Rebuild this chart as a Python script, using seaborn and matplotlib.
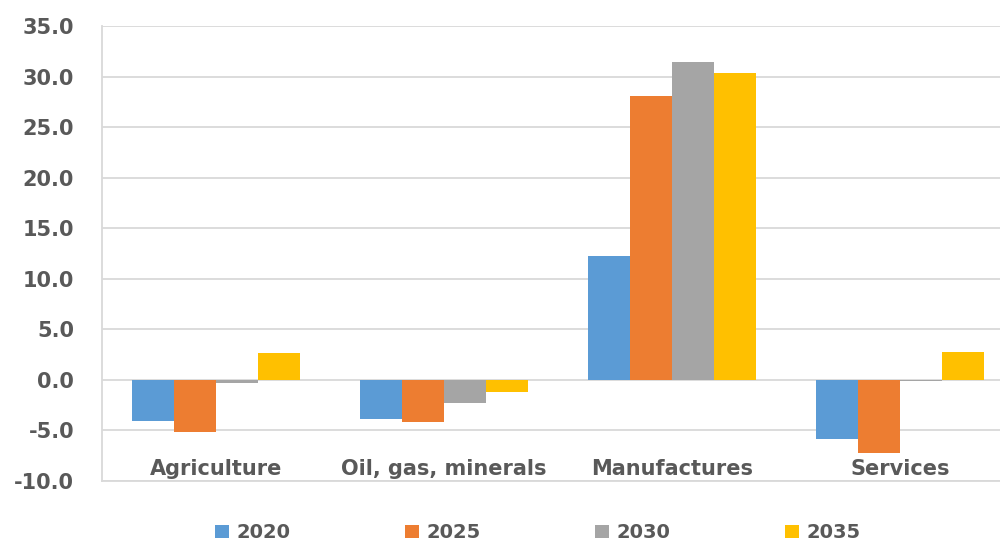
import matplotlib
matplotlib.use("Agg")
import matplotlib.pyplot as plt
import seaborn as sns
import pandas as pd
from matplotlib.transforms import blended_transform_factory

categories = ["Agriculture", "Oil, gas, minerals", "Manufactures", "Services"]
years = ["2020", "2025", "2030", "2035"]
v2020 = [-4.1, -3.9, 12.3, -5.8]
v2025 = [-5.2, -4.2, 28.1, -7.2]
v2030 = [-0.3, -2.3, 31.4, -0.1]
v2035 = [2.7, -1.2, 30.4, 2.8]
colors = ["#5B9BD5", "#ED7D31", "#A5A5A5", "#FFC000"]
yticks = [-10, -5, 0, 5, 10, 15, 20, 25, 30, 35]

rows = []
for yr, vals in zip(years, [v2020, v2025, v2030, v2035]):
    for c, v in zip(categories, vals):
        rows.append({"Category": c, "Year": yr, "Value": v})
df = pd.DataFrame(rows)

sns.set_theme(style="white")
plt.rcParams['font.family'] = ['DejaVu Sans']
txt = "#595959"

fig = plt.figure(figsize=(10, 5.42), dpi=100)
ax = fig.add_axes([0.102, 0.1125, 0.912, 0.8395])
sns.barplot(data=df, x="Category", y="Value", hue="Year", order=categories,
            hue_order=years, palette=colors, saturation=1, width=0.735, gap=0,
            linewidth=0, ax=ax, legend=True)

ax.set_ylim(-10, 35)
ax.set_xlim(-0.5, 3.5)
ax.set_yticks(yticks)
ax.set_yticklabels([f"{t:.1f}" for t in yticks], fontsize=15,
                   fontweight="bold", color=txt)
ax.tick_params(axis="y", length=0, pad=20)
ax.set_xticks([])
ax.set_xlabel("")
ax.set_ylabel("")
ax.yaxis.grid(True, color="#D9D9D9", linewidth=1.3)
ax.set_axisbelow(True)
for s in ["top", "right"]:
    ax.spines[s].set_visible(False)
for s in ["left", "bottom"]:
    ax.spines[s].set_color("#D9D9D9")
    ax.spines[s].set_linewidth(1.3)

tr = blended_transform_factory(ax.transData, ax.transAxes)
for i, c in enumerate(categories):
    ax.text(i, 0.026, c, transform=tr, ha="center", va="center",
            fontsize=15, fontweight="bold", color=txt)

handles, labels = ax.get_legend_handles_labels()
ax.get_legend().remove()
leg = fig.legend(handles, labels, loc="center", bbox_to_anchor=(0.538, 0.017),
                 ncol=4, frameon=False, handlelength=0.7, handleheight=0.7,
                 handletextpad=0.4, columnspacing=5.9,
                 prop={"size": 14, "weight": "bold"})
for t in leg.get_texts():
    t.set_color(txt)

fig.savefig("out.png", dpi=100)
